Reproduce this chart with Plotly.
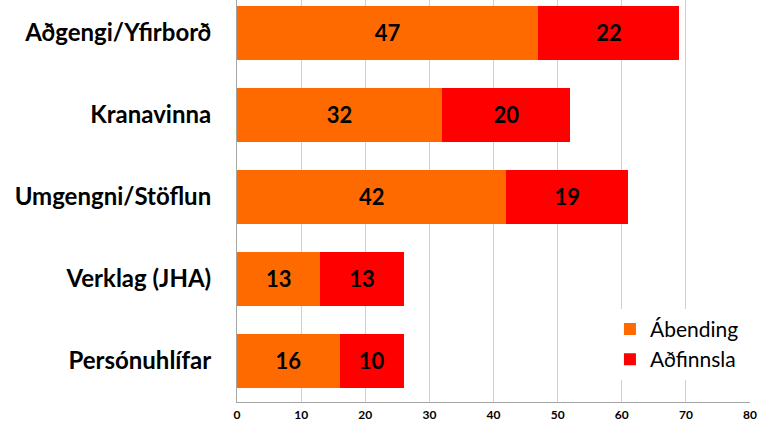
import plotly.graph_objects as go

categories = ["Persónuhlífar", "Verklag (JHA)", "Umgengni/Stöflun", "Kranavinna", "Aðgengi/Yfirborð"]
abending = [16, 13, 42, 32, 47]
adfinnsla = [10, 13, 19, 20, 22]
x_ticks = [0, 10, 20, 30, 40, 50, 60, 70, 80]

FONT = "Lato, Open Sans, sans-serif"

fig = go.Figure()
fig.add_trace(go.Bar(
    y=list(range(len(categories))), x=abending, orientation="h", name="Ábending",
    marker=dict(color="#FF6A00", line=dict(width=0)),
    text=[str(v) for v in abending], textposition="inside", insidetextanchor="middle",
    textfont=dict(family=FONT, size=22, color="black", weight="bold"),
))
fig.add_trace(go.Bar(
    y=list(range(len(categories))), x=adfinnsla, orientation="h", name="Aðfinnsla",
    marker=dict(color="#FF0000", line=dict(width=0)),
    text=[str(v) for v in adfinnsla], textposition="inside", insidetextanchor="middle",
    textfont=dict(family=FONT, size=22, color="black", weight="bold"),
))

fig.update_layout(
    barmode="stack",
    bargap=0.34,
    width=759, height=425,
    margin=dict(l=237, r=9, t=0, b=23, autoexpand=False),
    plot_bgcolor="white", paper_bgcolor="white",
    uniformtext=dict(minsize=22, mode="show"),
    legend=dict(
        x=0.727, y=0.232, xanchor="left", yanchor="top",
        bgcolor="white", font=dict(family=FONT, size=21, color="black"),
        traceorder="normal", itemwidth=30,
    ),
    xaxis=dict(
        range=[0, 80], tickvals=x_ticks, ticktext=[str(v) for v in x_ticks],
        showgrid=True, gridcolor="#D0D0D0", gridwidth=1,
        showline=True, linecolor="#A6A6A6", linewidth=1,
        ticks="outside", ticklen=2, tickcolor="white",
        tickfont=dict(family=FONT, size=12, color="black", weight="bold"),
        ticklabeloverflow="allow",
        zeroline=False, automargin=False,
    ),
    yaxis=dict(
        range=[-0.5, 4.4], tickvals=list(range(len(categories))), ticktext=categories,
        showgrid=False, showline=True, linecolor="#A6A6A6", linewidth=1,
        ticks="", ticklabelstandoff=20,
        tickfont=dict(family=FONT, size=24, color="black", weight="bold"),
        zeroline=False, automargin=False,
    ),
)

fig.write_html(
    "out.html",
    config={"displayModeBar": False},
    post_script="document.body.style.margin='0';document.body.style.overflow='hidden';",
)
